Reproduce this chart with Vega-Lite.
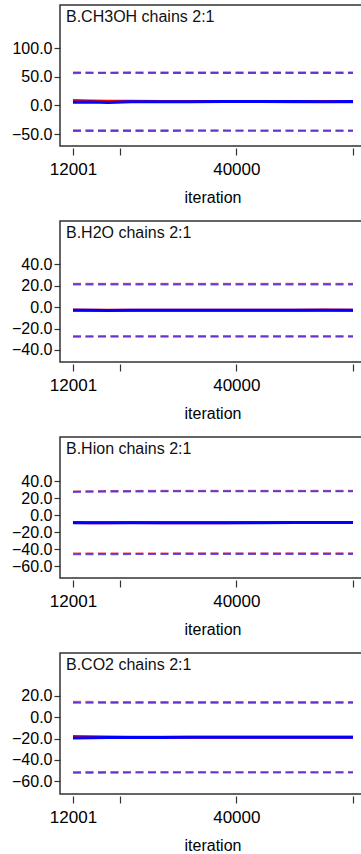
{
  "$schema": "https://vega.github.io/schema/vega-lite/v6.json",
  "padding": {"left": 10, "top": 4, "right": 0, "bottom": 0},
  "spacing": 14,
  "background": "white",
  "config": {
    "view": {"stroke": "#333333", "strokeWidth": 1.5},
    "font": "Liberation Sans",
    "axis": {
      "grid": false,
      "domain": false,
      "labelFont": "Liberation Sans",
      "labelFontWeight": "normal",
      "labelColor": "#000000",
      "tickColor": "#333333",
      "tickWidth": 1.2,
      "titleFont": "Liberation Sans",
      "titleFontSize": 16,
      "titleFontWeight": "normal",
      "titleColor": "#000000",
      "labelOverlap": false
    },
    "axisX": {"offset": 2, "tickSize": 7, "labelPadding": 6, "labelFontSize": 17, "titlePadding": 12, "labelFlush": false},
    "axisY": {"tickSize": 6, "labelPadding": 2, "labelFontSize": 16, "offset": 0, "labelFlush": false},
    "line": {"strokeJoin": "round"},
    "title": {"anchor": "start", "frame": "group", "offset": -20, "dx": 6, "fontSize": 16, "fontWeight": "normal", "color": "#111111", "baseline": "alphabetic", "font": "Liberation Sans"}
  },
  "datasets": {
    "ch3oh": [
      {"it": 12001, "m1": 8.6, "m2": 5.6, "l1": -43.6, "l2": -44.6, "u1": 57.8, "u2": 56.8},
      {"it": 15000, "m1": 8.0, "m2": 6.0, "l1": -43.6, "l2": -44.5, "u1": 57.8, "u2": 56.9},
      {"it": 18000, "m1": 7.4, "m2": 5.4, "l1": -43.7, "l2": -44.5, "u1": 57.7, "u2": 56.9},
      {"it": 22000, "m1": 7.2, "m2": 6.4, "l1": -43.7, "l2": -44.4, "u1": 57.8, "u2": 57.0},
      {"it": 27000, "m1": 7.0, "m2": 6.6, "l1": -43.8, "l2": -44.4, "u1": 57.7, "u2": 57.0},
      {"it": 32000, "m1": 6.9, "m2": 6.7, "l1": -43.8, "l2": -44.3, "u1": 57.6, "u2": 57.1},
      {"it": 38000, "m1": 6.8, "m2": 6.8, "l1": -43.8, "l2": -44.3, "u1": 57.6, "u2": 57.1},
      {"it": 44000, "m1": 6.8, "m2": 6.9, "l1": -43.9, "l2": -44.3, "u1": 57.5, "u2": 57.1},
      {"it": 50000, "m1": 6.7, "m2": 6.8, "l1": -43.9, "l2": -44.3, "u1": 57.5, "u2": 57.1},
      {"it": 55000, "m1": 6.8, "m2": 6.7, "l1": -43.9, "l2": -44.3, "u1": 57.5, "u2": 57.1},
      {"it": 60000, "m1": 6.7, "m2": 6.8, "l1": -43.9, "l2": -44.3, "u1": 57.5, "u2": 57.1}
    ],
    "h2o": [
      {"it": 12001, "m1": -2.6, "m2": -3.0, "l1": -27.8, "l2": -27.2, "u1": 21.9, "u2": 21.4},
      {"it": 15000, "m1": -2.8, "m2": -2.9, "l1": -27.7, "l2": -27.2, "u1": 21.9, "u2": 21.4},
      {"it": 18000, "m1": -2.9, "m2": -3.1, "l1": -27.6, "l2": -27.2, "u1": 21.9, "u2": 21.4},
      {"it": 22000, "m1": -2.8, "m2": -2.9, "l1": -27.5, "l2": -27.2, "u1": 21.9, "u2": 21.4},
      {"it": 27000, "m1": -2.9, "m2": -2.8, "l1": -27.5, "l2": -27.2, "u1": 21.9, "u2": 21.4},
      {"it": 32000, "m1": -2.8, "m2": -2.8, "l1": -27.5, "l2": -27.2, "u1": 21.9, "u2": 21.4},
      {"it": 38000, "m1": -2.8, "m2": -2.9, "l1": -27.5, "l2": -27.2, "u1": 21.9, "u2": 21.4},
      {"it": 44000, "m1": -2.9, "m2": -2.9, "l1": -27.5, "l2": -27.2, "u1": 21.9, "u2": 21.4},
      {"it": 50000, "m1": -2.8, "m2": -2.9, "l1": -27.5, "l2": -27.2, "u1": 21.9, "u2": 21.4},
      {"it": 55000, "m1": -2.7, "m2": -2.9, "l1": -27.5, "l2": -27.2, "u1": 21.9, "u2": 21.4},
      {"it": 60000, "m1": -2.8, "m2": -2.9, "l1": -27.5, "l2": -27.2, "u1": 21.9, "u2": 21.4}
    ],
    "hion": [
      {"it": 12001, "m1": -8.6, "m2": -8.8, "l1": -45.0, "l2": -46.0, "u1": 28.0, "u2": 27.6},
      {"it": 15000, "m1": -8.7, "m2": -8.8, "l1": -45.0, "l2": -45.9, "u1": 28.3, "u2": 27.9},
      {"it": 18000, "m1": -8.7, "m2": -8.7, "l1": -45.0, "l2": -45.8, "u1": 28.5, "u2": 28.1},
      {"it": 22000, "m1": -8.6, "m2": -8.7, "l1": -45.0, "l2": -45.7, "u1": 28.6, "u2": 28.2},
      {"it": 27000, "m1": -8.7, "m2": -8.7, "l1": -45.0, "l2": -45.7, "u1": 28.7, "u2": 28.3},
      {"it": 32000, "m1": -8.7, "m2": -8.7, "l1": -45.0, "l2": -45.6, "u1": 28.7, "u2": 28.3},
      {"it": 38000, "m1": -8.7, "m2": -8.7, "l1": -45.0, "l2": -45.6, "u1": 28.7, "u2": 28.3},
      {"it": 44000, "m1": -8.6, "m2": -8.7, "l1": -45.0, "l2": -45.6, "u1": 28.7, "u2": 28.3},
      {"it": 50000, "m1": -8.6, "m2": -8.6, "l1": -45.0, "l2": -45.6, "u1": 28.7, "u2": 28.3},
      {"it": 55000, "m1": -8.6, "m2": -8.6, "l1": -45.0, "l2": -45.6, "u1": 28.7, "u2": 28.3},
      {"it": 60000, "m1": -8.6, "m2": -8.6, "l1": -45.0, "l2": -45.6, "u1": 28.7, "u2": 28.3}
    ],
    "co2": [
      {"it": 12001, "m1": -18.2, "m2": -19.4, "l1": -51.4, "l2": -52.0, "u1": 14.2, "u2": 13.6},
      {"it": 15000, "m1": -18.4, "m2": -19.2, "l1": -51.4, "l2": -51.9, "u1": 14.2, "u2": 13.6},
      {"it": 18000, "m1": -18.6, "m2": -19.1, "l1": -51.3, "l2": -51.9, "u1": 14.1, "u2": 13.6},
      {"it": 22000, "m1": -18.8, "m2": -19.0, "l1": -51.3, "l2": -51.8, "u1": 14.1, "u2": 13.6},
      {"it": 27000, "m1": -18.9, "m2": -19.0, "l1": -51.3, "l2": -51.8, "u1": 14.1, "u2": 13.6},
      {"it": 32000, "m1": -18.9, "m2": -18.9, "l1": -51.3, "l2": -51.8, "u1": 14.1, "u2": 13.6},
      {"it": 38000, "m1": -18.9, "m2": -18.9, "l1": -51.3, "l2": -51.8, "u1": 14.1, "u2": 13.6},
      {"it": 44000, "m1": -18.9, "m2": -18.9, "l1": -51.3, "l2": -51.8, "u1": 14.1, "u2": 13.6},
      {"it": 50000, "m1": -18.9, "m2": -18.9, "l1": -51.3, "l2": -51.8, "u1": 14.1, "u2": 13.6},
      {"it": 55000, "m1": -18.9, "m2": -18.9, "l1": -51.3, "l2": -51.8, "u1": 14.1, "u2": 13.6},
      {"it": 60000, "m1": -18.9, "m2": -18.9, "l1": -51.3, "l2": -51.8, "u1": 14.1, "u2": 13.6}
    ]
  },
  "vconcat": [
    {
      "width": 305, "height": 141,
      "title": {"text": "B.CH3OH chains 2:1"},
      "data": {"name": "ch3oh"},
      "transform": [{"fold": ["l1", "u1", "l2", "u2", "m1", "m2"], "as": ["k", "v"]}],
      "encoding": {
        "x": {"field": "it", "type": "quantitative", "title": "iteration",
          "scale": {"domain": [9772, 62057], "nice": false, "zero": false},
          "axis": {"values": [12001, 20000, 40000, 60000], "format": "d", "labelExpr": "datum.value == 20000 || datum.value == 60000 ? '' : datum.label"}},
        "y": {"field": "v", "type": "quantitative", "title": null, "scale": {"domain": [-71, 176], "nice": false, "zero": false}, "axis": {"values": [-50, 0, 50, 100], "format": ".1f"}},
        "detail": {"field": "k"}
      },
      "layer": [
        {"transform": [{"filter": {"field": "k", "oneOf": ["l1", "u1"]}}], "mark": {"type": "line", "color": "#ff0000", "strokeWidth": 2.2, "strokeDash": [8, 4.5], "opacity": 0.5}},
        {"transform": [{"filter": {"field": "k", "oneOf": ["l2", "u2"]}}], "mark": {"type": "line", "color": "#0000ff", "strokeWidth": 2.2, "strokeDash": [8, 4.5], "opacity": 0.6}},
        {"transform": [{"filter": {"field": "k", "equal": "m1"}}], "mark": {"type": "line", "color": "#ff0000", "strokeWidth": 3}},
        {"transform": [{"filter": {"field": "k", "equal": "m2"}}], "mark": {"type": "line", "color": "#0000ff", "strokeWidth": 3}}
      ]
    },
    {
      "width": 305, "height": 141,
      "title": {"text": "B.H2O chains 2:1"},
      "data": {"name": "h2o"},
      "transform": [{"fold": ["l1", "u1", "l2", "u2", "m1", "m2"], "as": ["k", "v"]}],
      "encoding": {
        "x": {"field": "it", "type": "quantitative", "title": "iteration",
          "scale": {"domain": [9772, 62057], "nice": false, "zero": false},
          "axis": {"values": [12001, 20000, 40000, 60000], "format": "d", "labelExpr": "datum.value == 20000 || datum.value == 60000 ? '' : datum.label"}},
        "y": {"field": "v", "type": "quantitative", "title": null, "scale": {"domain": [-51.3, 80.6], "nice": false, "zero": false}, "axis": {"values": [-40, -20, 0, 20, 40], "format": ".1f"}},
        "detail": {"field": "k"}
      },
      "layer": [
        {"transform": [{"filter": {"field": "k", "oneOf": ["l1", "u1"]}}], "mark": {"type": "line", "color": "#ff0000", "strokeWidth": 2.2, "strokeDash": [8, 4.5], "opacity": 0.5}},
        {"transform": [{"filter": {"field": "k", "oneOf": ["l2", "u2"]}}], "mark": {"type": "line", "color": "#0000ff", "strokeWidth": 2.2, "strokeDash": [8, 4.5], "opacity": 0.6}},
        {"transform": [{"filter": {"field": "k", "equal": "m1"}}], "mark": {"type": "line", "color": "#ff0000", "strokeWidth": 3}},
        {"transform": [{"filter": {"field": "k", "equal": "m2"}}], "mark": {"type": "line", "color": "#0000ff", "strokeWidth": 3}}
      ]
    },
    {
      "width": 305, "height": 141,
      "title": {"text": "B.Hion chains 2:1"},
      "data": {"name": "hion"},
      "transform": [{"fold": ["l1", "u1", "l2", "u2", "m1", "m2"], "as": ["k", "v"]}],
      "encoding": {
        "x": {"field": "it", "type": "quantitative", "title": "iteration",
          "scale": {"domain": [9772, 62057], "nice": false, "zero": false},
          "axis": {"values": [12001, 20000, 40000, 60000], "format": "d", "labelExpr": "datum.value == 20000 || datum.value == 60000 ? '' : datum.label"}},
        "y": {"field": "v", "type": "quantitative", "title": null, "scale": {"domain": [-74, 92.3], "nice": false, "zero": false}, "axis": {"values": [-60, -40, -20, 0, 20, 40], "format": ".1f"}},
        "detail": {"field": "k"}
      },
      "layer": [
        {"transform": [{"filter": {"field": "k", "oneOf": ["l1", "u1"]}}], "mark": {"type": "line", "color": "#ff0000", "strokeWidth": 2.2, "strokeDash": [8, 4.5], "opacity": 0.5}},
        {"transform": [{"filter": {"field": "k", "oneOf": ["l2", "u2"]}}], "mark": {"type": "line", "color": "#0000ff", "strokeWidth": 2.2, "strokeDash": [8, 4.5], "opacity": 0.6}},
        {"transform": [{"filter": {"field": "k", "equal": "m1"}}], "mark": {"type": "line", "color": "#ff0000", "strokeWidth": 3}},
        {"transform": [{"filter": {"field": "k", "equal": "m2"}}], "mark": {"type": "line", "color": "#0000ff", "strokeWidth": 3}}
      ]
    },
    {
      "width": 305, "height": 141,
      "title": {"text": "B.CO2 chains 2:1"},
      "data": {"name": "co2"},
      "transform": [{"fold": ["l1", "u1", "l2", "u2", "m1", "m2"], "as": ["k", "v"]}],
      "encoding": {
        "x": {"field": "it", "type": "quantitative", "title": "iteration",
          "scale": {"domain": [9772, 62057], "nice": false, "zero": false},
          "axis": {"values": [12001, 20000, 40000, 60000], "format": "d", "labelExpr": "datum.value == 20000 || datum.value == 60000 ? '' : datum.label"}},
        "y": {"field": "v", "type": "quantitative", "title": null, "scale": {"domain": [-71.9, 60], "nice": false, "zero": false}, "axis": {"values": [-60, -40, -20, 0, 20], "format": ".1f"}},
        "detail": {"field": "k"}
      },
      "layer": [
        {"transform": [{"filter": {"field": "k", "oneOf": ["l1", "u1"]}}], "mark": {"type": "line", "color": "#ff0000", "strokeWidth": 2.2, "strokeDash": [8, 4.5], "opacity": 0.5}},
        {"transform": [{"filter": {"field": "k", "oneOf": ["l2", "u2"]}}], "mark": {"type": "line", "color": "#0000ff", "strokeWidth": 2.2, "strokeDash": [8, 4.5], "opacity": 0.6}},
        {"transform": [{"filter": {"field": "k", "equal": "m1"}}], "mark": {"type": "line", "color": "#ff0000", "strokeWidth": 3}},
        {"transform": [{"filter": {"field": "k", "equal": "m2"}}], "mark": {"type": "line", "color": "#0000ff", "strokeWidth": 3}}
      ]
    }
  ]
}
